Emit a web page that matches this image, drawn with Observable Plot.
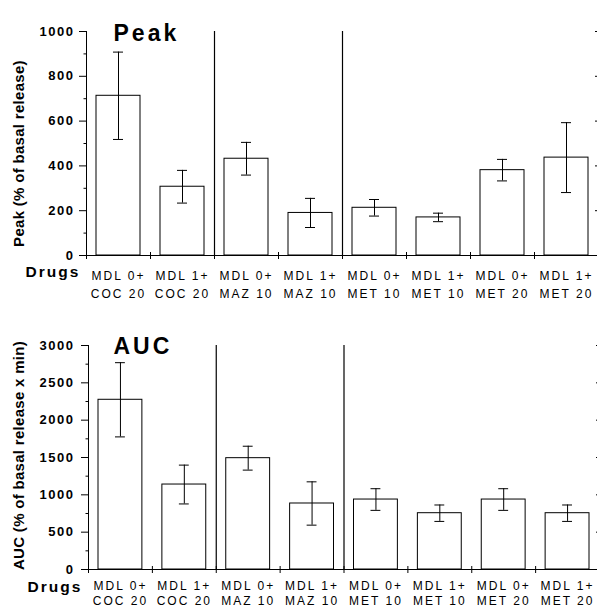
<!DOCTYPE html>
<html><head><meta charset="utf-8">
<script src="https://cdn.jsdelivr.net/npm/d3@7"></script>
<script src="https://cdn.jsdelivr.net/npm/@observablehq/plot@0.6"></script>
<style>
body{margin:0;background:#fff;overflow:hidden}
#chart{width:597px;height:608px;overflow:hidden}
#chart svg{display:block}
g[font-size="12"] text{letter-spacing:2px}
g[font-size="13"] text{letter-spacing:1.5px}
g[font-size="15"] text{letter-spacing:0.3px}
g[font-size="15.5"] text{letter-spacing:2px}
g[font-size="23"] text{letter-spacing:3px}
</style></head><body><div id="chart"></div>
<script>
const drugs = ["MDL 0+\nCOC 20","MDL 1+\nCOC 20","MDL 0+\nMAZ 10","MDL 1+\nMAZ 10","MDL 0+\nMET 10","MDL 1+\nMET 10","MDL 0+\nMET 20","MDL 1+\nMET 20"];
const peakMean = [713,307,432,190,213,170,381,437];
const peakErr  = [195,73,73,65,37,19,48,156];
const aucMean  = [2273,1138,1491,884,937,754,937,754];
const aucErr   = [497,260,160,290,145,110,145,110];
const peakMajor = [0,200,400,600,800,1000];
const peakMinor = [100,300,500,700,900];
const aucMajor = [0,500,1000,1500,2000,2500,3000];
const aucMinor = [250,750,1250,1750,2250,2750];
const separators = [2,4];

function panel(o){
  const data = drugs.map((d,i)=>({i, label:d, v:o.mean[i], e:o.err[i]}));
  const bounds = d3.range(drugs.length+1);
  const blank = () => "";
  return Plot.plot({
    width:597, height:304,
    marginLeft:o.ml, marginRight:o.mr, marginTop:o.mt, marginBottom:o.mb,
    style:{fontFamily:"Liberation Sans, Arial, Helvetica, sans-serif", color:"#000", background:"#fff"},
    x:{domain:[0,drugs.length], axis:null},
    y:{domain:[0,o.yMax], axis:null},
    marks:[
      Plot.rectY(data,{x1:"i", x2:d=>d.i+1, y1:0, y2:"v", fill:"white", stroke:"black", strokeWidth:1, insetLeft:10, insetRight:10}),
      Plot.ruleX(data,{x:d=>d.i+0.5, y1:d=>d.v-d.e, y2:d=>d.v+d.e, stroke:"black"}),
      Plot.ruleY(data,{x1:"i", x2:d=>d.i+1, y:d=>d.v+d.e, insetLeft:27, insetRight:27, stroke:"black"}),
      Plot.ruleY(data,{x1:"i", x2:d=>d.i+1, y:d=>d.v-d.e, insetLeft:27, insetRight:27, stroke:"black"}),
      Plot.ruleX([0],{stroke:"black"}),
      Plot.ruleX(separators,{stroke:"black", strokeWidth:1.2}),
      Plot.ruleY([0],{stroke:"black"}),
      Plot.axisY({ticks:o.major, tickSize:7, tickPadding:o.tp, fontSize:13, fontWeight:"bold", label:null, tickFormat:d=>String(d)}),
      Plot.axisY({ticks:o.minor, tickSize:2.5, label:null, tickFormat:blank}),
      Plot.axisY({anchor:"right", ticks:o.major, tickSize:-4, label:null, tickFormat:blank}),
      Plot.axisY({anchor:"right", ticks:o.minor, tickSize:-1.5, label:null, tickFormat:blank}),
      Plot.axisX({ticks:bounds, tickSize:4, label:null, tickFormat:blank}),
      Plot.axisX({ticks:bounds, tickSize:-3, label:null, tickFormat:blank}),
      Plot.text(data,{x:d=>d.i+0.5, y:0, text:"label", lineAnchor:"top", dy:o.catDy, lineHeight:o.lh, fontSize:12, fill:"black"}),
      Plot.text([o.title],{frameAnchor:"top-left", textAnchor:"start", dx:o.titleDx, dy:o.titleDy, fontSize:23, fontWeight:"bold", fill:"black"}),
      Plot.text([o.ylabel],{frameAnchor:"left", rotate:-90, textAnchor:"middle", dx:o.ylDx, dy:o.ylDy, fontSize:15, fontWeight:"bold", fill:"black"}),
      Plot.text(["Drugs"],{frameAnchor:"bottom-left", textAnchor:"start", dx:-61, dy:o.drDy, fontSize:15.5, fontWeight:"bold", fill:"black"})
    ]
  });
}

const peakChart = panel({mean:peakMean, err:peakErr, yMax:1000, major:peakMajor, minor:peakMinor,
  ml:86, mr:-1, mt:31, mb:49, tp:5, catDy:11, lh:1.55, title:"Peak", titleDx:27, titleDy:-7,
  ylabel:"Peak (% of basal release)", ylDx:-67, ylDy:10, drDy:21});
const aucChart = panel({mean:aucMean, err:aucErr, yMax:3000, major:aucMajor, minor:aucMinor,
  ml:88, mr:-2, mt:41, mb:39, tp:7, catDy:9, lh:1.3, title:"AUC", titleDx:25, titleDy:-8,
  ylabel:"AUC (% of basal release x min)", ylDx:-69, ylDy:-2, drDy:22});
document.getElementById("chart").append(peakChart, aucChart);
</script></body></html>
